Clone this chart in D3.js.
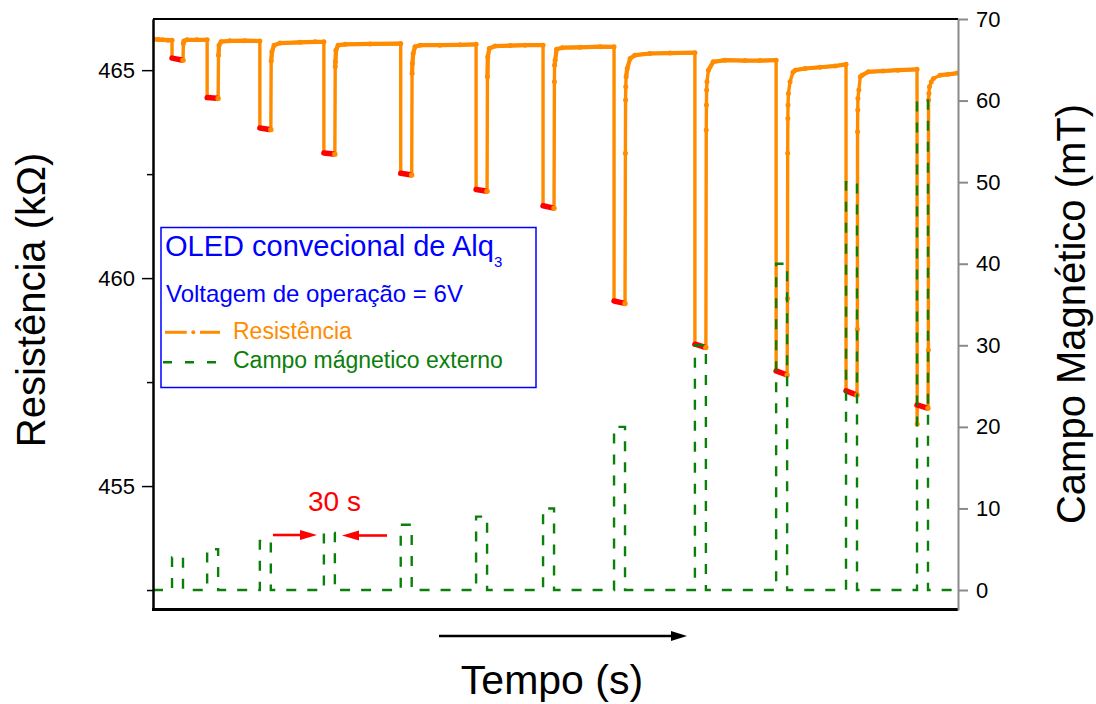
<!DOCTYPE html>
<html>
<head>
<meta charset="utf-8">
<script src="https://cdn.jsdelivr.net/npm/d3@7"></script>
<style>
  body { margin: 0; background: #fff; }
  svg { display: block; }
  text { font-family: "Liberation Sans", Arial, Helvetica, sans-serif; }
</style>
</head>
<body>
<svg id="chart" width="1096" height="704"></svg>
<script>
// Magnetic field pulses: start time (s), duration (s) and amplitude (mT)
const pulseStart = [52, 148, 292, 467, 677, 883, 1066, 1260, 1481, 1703, 1894, 2088];
const pulseLength = 30;
const fieldValue = [4, 5, 6, 7, 8, 9, 10, 20, 30, 40, 50, 60];

// Resistance readings [time (s), kΩ] taken while the field is off
const offReadings = [
  [[0, 465.74], [14, 465.74], [27, 465.73], [41, 465.72], [52, 465.72]],
  [[83, 465.64], [84.5, 465.70], [93, 465.73], [120, 465.73], [148, 465.73]],
  [[179, 465.36], [180.5, 465.60], [186, 465.685], [210, 465.705], [251, 465.71], [292, 465.70]],
  [[323, 465.22], [325, 465.44], [331, 465.60], [347, 465.65], [402, 465.67], [443, 465.68], [467, 465.68]],
  [[498, 465.08], [498.5, 465.20], [500, 465.48], [506, 465.60], [525, 465.62], [593, 465.63], [677, 465.64]],
  [[708, 464.92], [709, 465.16], [711, 465.40], [716, 465.56], [730, 465.60], [784, 465.60], [839, 465.61], [883, 465.62]],
  [[914, 464.84], [915, 465.32], [919, 465.52], [935, 465.58], [976, 465.59], [1017, 465.60], [1066, 465.60]],
  [[1097, 464.72], [1097.5, 465.12], [1099, 465.24], [1103, 465.50], [1118, 465.54], [1167, 465.55], [1222, 465.565], [1260, 465.56]],
  [[1291, 463.00], [1291.5, 464.28], [1292, 464.60], [1293, 464.84], [1296, 465.04], [1304, 465.28], [1317, 465.36], [1358, 465.40], [1413, 465.41], [1481, 465.42]],
  [[1512, 463.56], [1512.5, 464.16], [1513, 464.52], [1514, 464.72], [1518, 465.00], [1531, 465.20], [1563, 465.24], [1618, 465.23], [1659, 465.23], [1703, 465.24]],
  [[1734, 459.51], [1734.5, 463.00], [1735, 463.84], [1735.5, 464.16], [1736.5, 464.44], [1741, 464.72], [1749, 464.95], [1755, 465.00], [1782, 465.04], [1823, 465.07], [1864, 465.10], [1894, 465.14]],
  [[1925, 458.77], [1925.5, 463.52], [1926, 464.04], [1926.5, 464.32], [1929, 464.52], [1933, 464.84], [1938, 464.88], [1955, 464.96], [1995, 464.98], [2036, 465.00], [2088, 465.02], [2088.5, 456.49]],
  [[2119, 458.27], [2119.5, 464.28], [2120.5, 464.44], [2122, 464.60], [2127, 464.72], [2133, 464.80], [2151, 464.88], [2173, 464.90], [2198, 464.93]]
];

// First and last resistance (kΩ) while each pulse is applied
const onFirst = [465.29, 464.34, 463.61, 463.01, 462.52, 462.13, 461.74, 459.45, 458.41, 457.77, 457.29, 456.95];
const onLast  = [465.24, 464.32, 463.57, 462.98, 462.48, 462.09, 461.68, 459.39, 458.33, 457.67, 457.19, 456.87];

// Axis ticks
const resTicks = [455, 460, 465];
const resMinorTicks = [452.5, 457.5, 462.5];
const fieldTicks = [0, 10, 20, 30, 40, 50, 60, 70];

// Colours
const ORANGE = "#ff8c00", RED = "#ff0000", GREEN = "#0a800a", BLUE = "#0000ff";

const svg = d3.select("#chart");
const L = 153, R = 958, T = 19, B = 610;

const x = d3.scaleLinear().domain([0, 2200]).range([L, R]);
const yR = d3.scaleLinear().domain([452.02, 466.23]).range([B, T]);
const yB = d3.scaleLinear().domain([-2.45, 70]).range([B, T]);

// Clip marks to the plot frame
svg.append("defs").append("clipPath").attr("id", "plotClip")
  .append("rect").attr("x", L).attr("y", T).attr("width", R - L).attr("height", B - T);
const plot = svg.append("g").attr("clip-path", "url(#plotClip)");

// Full resistance trace: off readings interleaved with the field-on readings
const trace = [];
offReadings.forEach((seg, i) => {
  seg.forEach(p => trace.push(p));
  if (i < pulseStart.length) {
    trace.push([pulseStart[i], onFirst[i]]);
    trace.push([pulseStart[i] + pulseLength, onLast[i]]);
  }
});

const resLine = d3.line().x(d => x(d[0])).y(d => yR(d[1]));
plot.append("path").datum(trace)
  .attr("fill", "none").attr("stroke", ORANGE).attr("stroke-width", 3.4)
  .attr("stroke-linejoin", "round").attr("d", resLine);

// Slightly heavier stroke along the field-off plateaus, where samples are dense
plot.append("g").selectAll("path")
  .data(offReadings.map(seg => seg.filter(p => p[1] > 464.8)))
  .join("path")
  .attr("fill", "none").attr("stroke", ORANGE).attr("stroke-width", 4.2)
  .attr("stroke-linejoin", "round").attr("stroke-linecap", "round").attr("d", resLine);

// Sample markers along the field-off readings
plot.append("g").selectAll("circle")
  .data(offReadings.flat())
  .join("circle")
  .attr("cx", d => x(d[0])).attr("cy", d => yR(d[1])).attr("r", 2.5)
  .attr("fill", ORANGE);

// Field-on readings in red, last reading marked in orange
const dips = pulseStart.map((s, i) => [[s, onFirst[i]], [s + pulseLength * 0.88, onFirst[i] + (onLast[i] - onFirst[i]) * 0.88]]);
plot.append("g").selectAll("path")
  .data(dips)
  .join("path")
  .attr("fill", "none").attr("stroke", RED).attr("stroke-width", 5.5)
  .attr("stroke-linecap", "round").attr("d", resLine);
plot.append("g").selectAll("circle")
  .data(pulseStart.map((s, i) => [s + pulseLength, onLast[i]]))
  .join("circle")
  .attr("cx", d => x(d[0])).attr("cy", d => yR(d[1])).attr("r", 2.7)
  .attr("fill", ORANGE);

// Applied field as a dashed step trace
const field = [[0, 0]];
pulseStart.forEach((s, i) => {
  field.push([s, 0], [s, fieldValue[i]], [s + pulseLength, fieldValue[i]], [s + pulseLength, 0]);
});
field.push([2200, 0]);
plot.append("path").datum(field)
  .attr("fill", "none").attr("stroke", GREEN).attr("stroke-width", 2.4)
  .attr("stroke-dasharray", "10,11")
  .attr("d", d3.line().x(d => x(d[0])).y(d => yB(d[1])));

// Frame: top and bottom borders
svg.append("line").attr("x1", L).attr("x2", R).attr("y1", T).attr("y2", T)
  .attr("stroke", "#000").attr("stroke-width", 2);
svg.append("line").attr("x1", L - 1).attr("x2", R).attr("y1", B - 0.5).attr("y2", B - 0.5)
  .attr("stroke", "#000").attr("stroke-width", 3);

// Left axis (resistance)
const leftMinor = svg.append("g").attr("transform", `translate(${L},0)`)
  .call(d3.axisLeft(yR).tickValues(resMinorTicks).tickSize(6).tickSizeOuter(0).tickFormat(""));
const leftMajor = svg.append("g").attr("transform", `translate(${L},0)`)
  .call(d3.axisLeft(yR).tickValues(resTicks).tickSize(11).tickSizeOuter(0).tickPadding(7).tickFormat(d3.format("d")));
[leftMinor, leftMajor].forEach(g => {
  g.select(".domain").attr("stroke", "#000").attr("stroke-width", 2);
  g.selectAll(".tick line").attr("stroke", "#000").attr("stroke-width", 1.5);
});
leftMajor.selectAll(".tick text").attr("font-size", 22).attr("fill", "#000")
  .style("font-family", "'Liberation Sans', Arial, sans-serif");

// Right axis (magnetic field)
const right = svg.append("g").attr("transform", `translate(${R},0)`)
  .call(d3.axisRight(yB).tickValues(fieldTicks).tickSize(10).tickSizeOuter(0).tickPadding(8).tickFormat(d3.format("d")));
right.select(".domain").attr("stroke", "#8a8a8a").attr("stroke-width", 2);
right.selectAll(".tick line").attr("stroke", "#8a8a8a").attr("stroke-width", 2);
right.selectAll(".tick text").attr("font-size", 22).attr("fill", "#000")
  .style("font-family", "'Liberation Sans', Arial, sans-serif");

// Axis titles
svg.append("text").attr("transform", "translate(45,300) rotate(-90)")
  .attr("text-anchor", "middle").attr("font-size", 40).attr("fill", "#000")
  .text("Resistência (kΩ)");
svg.append("text").attr("transform", "translate(1085,314) rotate(-90)")
  .attr("text-anchor", "middle").attr("font-size", 40).attr("fill", "#000")
  .text("Campo Magnético (mT)");
svg.append("text").attr("x", 552).attr("y", 694)
  .attr("text-anchor", "middle").attr("font-size", 41).attr("fill", "#000")
  .text("Tempo (s)");

// Time direction arrow
svg.append("line").attr("x1", 439).attr("x2", 673).attr("y1", 636).attr("y2", 636)
  .attr("stroke", "#000").attr("stroke-width", 2.6);
svg.append("polygon").attr("points", "687,636 671,631 671,641").attr("fill", "#000");

// Pulse width annotation
svg.append("text").attr("x", 334.5).attr("y", 511).attr("text-anchor", "middle")
  .attr("font-size", 28).attr("fill", RED).text("30 s");
svg.append("line").attr("x1", 273).attr("x2", 303).attr("y1", 535).attr("y2", 535)
  .attr("stroke", RED).attr("stroke-width", 2.6);
svg.append("polygon").attr("points", "317,535 300,530 300,540").attr("fill", RED);
svg.append("line").attr("x1", 387).attr("x2", 356).attr("y1", 535.5).attr("y2", 535.5)
  .attr("stroke", RED).attr("stroke-width", 2.6);
svg.append("polygon").attr("points", "342,535.5 359,530.5 359,540.5").attr("fill", RED);

// Legend box
const leg = svg.append("g");
leg.append("rect").attr("x", 161).attr("y", 227.5).attr("width", 375).attr("height", 160)
  .attr("fill", "#fff").attr("stroke", BLUE).attr("stroke-width", 1.5);
const title = leg.append("text").attr("x", 165).attr("y", 256).attr("font-size", 29).attr("fill", BLUE);
title.append("tspan").text("OLED convecional de Alq");
title.append("tspan").attr("font-size", 15).attr("dy", 11).text("3");
leg.append("text").attr("x", 166).attr("y", 301.5).attr("font-size", 24).attr("fill", BLUE)
  .text("Voltagem de operação = 6V");

// Resistance sample: dash-dot
leg.append("line").attr("x1", 165).attr("x2", 186.7).attr("y1", 332.3).attr("y2", 332.3)
  .attr("stroke", ORANGE).attr("stroke-width", 3);
leg.append("circle").attr("cx", 193.3).attr("cy", 332.3).attr("r", 2).attr("fill", ORANGE);
leg.append("line").attr("x1", 200).attr("x2", 220).attr("y1", 332.3).attr("y2", 332.3)
  .attr("stroke", ORANGE).attr("stroke-width", 3);
leg.append("text").attr("x", 233).attr("y", 339).attr("font-size", 23).attr("fill", ORANGE)
  .text("Resistência");

// Field sample: dashed
leg.append("line").attr("x1", 163).attr("x2", 217).attr("y1", 362.3).attr("y2", 362.3)
  .attr("stroke", GREEN).attr("stroke-width", 2.4).attr("stroke-dasharray", "9,13");
leg.append("text").attr("x", 233).attr("y", 368).attr("font-size", 23).attr("fill", GREEN)
  .text("Campo mágnetico externo");
</script>
</body>
</html>
